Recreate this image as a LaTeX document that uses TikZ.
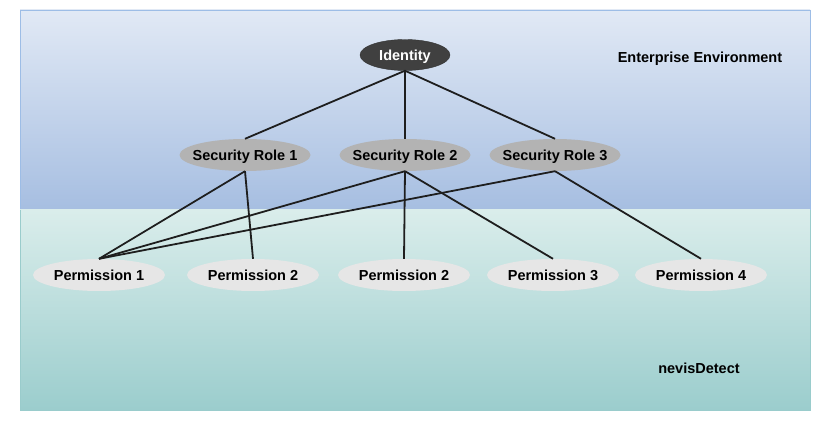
\documentclass[tikz,border=0pt]{standalone}
\usepackage{fontspec}
\setmainfont{Liberation Sans}
\usetikzlibrary{shapes.geometric}
\definecolor{topA}{HTML}{E1E9F5}
\definecolor{topB}{HTML}{A6BEE1}
\definecolor{botA}{HTML}{DAEDEB}
\definecolor{botB}{HTML}{9BCDCD}
\definecolor{topline}{HTML}{9DBDE6}
\definecolor{botline}{HTML}{9ACCCC}
\definecolor{idfill}{HTML}{404040}
\definecolor{rolefill}{HTML}{B3B3B3}
\definecolor{permfill}{HTML}{E6E6E6}
\definecolor{linkc}{HTML}{1E1E1E}
\tikzset{
  txt/.style={font=\fontsize{14.5}{17}\selectfont\bfseries, text height=10.5pt, text depth=0pt},
  idnode/.style={ellipse, txt, fill=idfill, draw=idfill!80!black, text=white, minimum width=90pt, minimum height=31pt, inner sep=0pt},
  rolenode/.style={ellipse, txt, fill=rolefill, minimum width=131pt, minimum height=32pt, inner ysep=0pt, inner xsep=-10pt},
  permnode/.style={ellipse, txt, fill=permfill, minimum width=132pt, minimum height=32pt, inner ysep=0pt, inner xsep=-6pt},
  link/.style={draw=linkc, line width=1.8pt},
  zonelabel/.style={txt, text=black}
}
\begin{document}
\begin{tikzpicture}[x=1pt,y=-1pt]
\useasboundingbox[fill=white] (0,0) rectangle (830,430);
\shade[top color=topA, bottom color=topB] (20,10) rectangle (810,210);
\draw[topline, line width=0.8pt] (20,210) -- (20,10) -- (810,10) -- (810,210);
\shade[top color=botA, bottom color=botB] (20,210) rectangle (810,410);
\draw[botline, line width=0.8pt] (20,210) -- (20,410) -- (810,410) -- (810,210);

\node[zonelabel] (env) at (700,57) {Enterprise Environment};
\node[zonelabel] (nd) at (699,368) {nevisDetect};

\node[idnode] (id) at (405,55) {Identity};
\node[rolenode] (r1) at (245,155) {Security Role 1};
\node[rolenode] (r2) at (405,155) {Security Role 2};
\node[rolenode] (r3) at (555,155) {Security Role 3};
\node[permnode] (p1) at (99,275) {Permission 1};
\node[permnode] (p2) at (253,275) {Permission 2};
\node[permnode] (p2b) at (404,275) {Permission 2};
\node[permnode] (p3) at (553,275) {Permission 3};
\node[permnode] (p4) at (701,275) {Permission 4};

\draw[link] (id.south) -- (r1.north);
\draw[link] (id.south) -- (r2.north);
\draw[link] (id.south) -- (r3.north);
\draw[link] (r1.south) -- (p1.north);
\draw[link] (r1.south) -- (p2.north);
\draw[link] (r2.south) -- (p1.north);
\draw[link] (r2.south) -- (p2b.north);
\draw[link] (r2.south) -- (p3.north);
\draw[link] (r3.south) -- (p1.north);
\draw[link] (r3.south) -- (p4.north);
\end{tikzpicture}
\end{document}
